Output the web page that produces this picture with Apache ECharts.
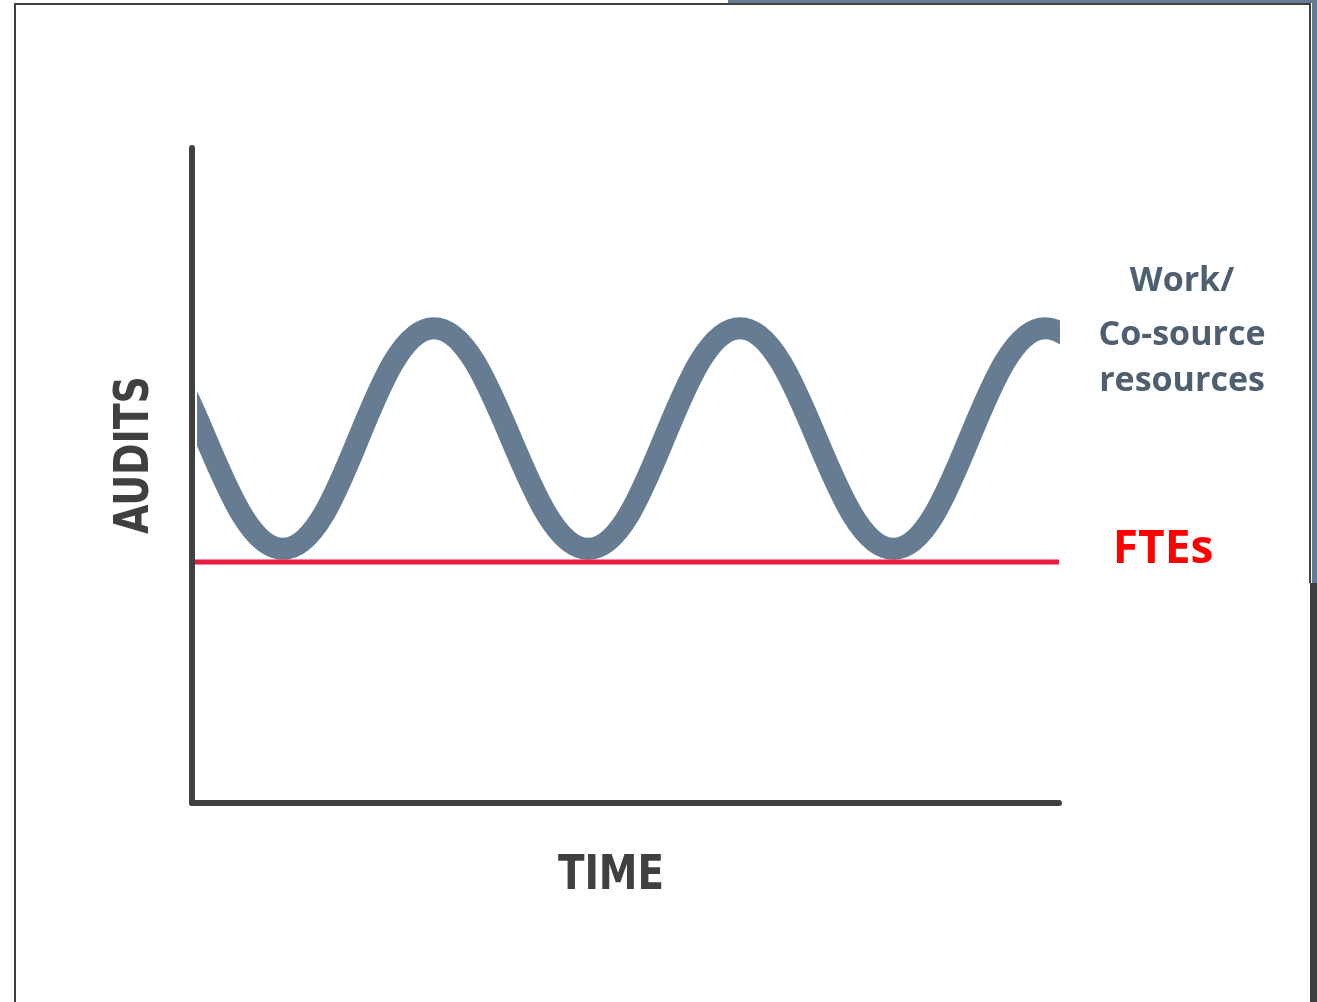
<!DOCTYPE html>
<html>
<head>
<meta charset="utf-8">
<script src="https://cdn.jsdelivr.net/npm/echarts@6/dist/echarts.min.js"></script>
<style>
  html, body { margin: 0; padding: 0; background: #ffffff; }
  #chart { width: 1317px; height: 1002px; }
</style>
</head>
<body>
<div id="chart"></div>
<script>
// Audit workload (peaks and troughs over time) against the flat FTE capacity
const waveX = [-24.7, -7.3, 10.5, 27.9, 45.7, 63.2, 80.9, 98.4, 116.0];
const workload = [38.8, 72.5, 38.8, 72.5, 38.8, 72.5, 38.8, 72.5, 38.8];
const fteX = [0, 100];
const fteLevel = [36.8, 36.8];

const workLabel = ['Work/', 'Co-source', 'resources'];
const fteLabel = 'FTEs';
const xName = 'TIME';
const yName = 'AUDITS';

const slate = '#667c92';
const axisGray = '#404040';
const waveWidth = 22;

// main plot area (axes + FTE line)
const plot = { left: 192, right: 258, top: 148, bottom: 199 };
const W = 1317;
const unitPx = (W - plot.left - plot.right) / 100;
// wave area: the line series clip is widened by half the stroke, so inset by that amount
const waveLeftPx = 197 + waveWidth / 2;
const waveRightPx = 1060 - waveWidth / 2;

const chart = echarts.init(document.getElementById('chart'), null, { renderer: 'canvas' });

const hiddenAxis = {
  type: 'value', show: false, splitLine: { show: false }
};
const axisCommon = {
  type: 'value',
  min: 0,
  max: 100,
  z: 10,
  axisLine: { show: true, lineStyle: { color: axisGray, width: 6 } },
  axisTick: { show: false },
  axisLabel: { show: false },
  splitLine: { show: false }
};

const titleFont = 'bold 48px "DejaVu Sans Condensed", "Liberation Sans Narrow", sans-serif';

chart.setOption({
  animation: false,
  backgroundColor: '#ffffff',
  grid: [
    { left: plot.left, right: plot.right, top: plot.top, bottom: plot.bottom },
    { left: waveLeftPx, right: W - waveRightPx, top: plot.top, bottom: plot.bottom }
  ],
  xAxis: [
    Object.assign({ gridIndex: 0 }, axisCommon),
    Object.assign({ gridIndex: 1 }, hiddenAxis, {
      min: (waveLeftPx - plot.left) / unitPx,
      max: (waveRightPx - plot.left) / unitPx
    })
  ],
  yAxis: [
    Object.assign({ gridIndex: 0 }, axisCommon),
    Object.assign({ gridIndex: 1 }, hiddenAxis, { min: 0, max: 100 })
  ],
  series: [
    {
      name: 'Work/Co-source resources',
      type: 'line',
      xAxisIndex: 1,
      yAxisIndex: 1,
      data: waveX.map((x, i) => [x, workload[i]]),
      smooth: 0.4,
      symbol: 'none',
      clip: true,
      z: 2,
      lineStyle: { color: slate, width: waveWidth, cap: 'butt' }
    },
    {
      name: 'FTEs',
      type: 'line',
      xAxisIndex: 0,
      yAxisIndex: 0,
      data: fteX.map((x, i) => [x, fteLevel[i]]),
      symbol: 'none',
      z: 3,
      lineStyle: { color: '#ec1a3d', width: 5 }
    }
  ],
  graphic: [
    // page frame
    { type: 'rect', shape: { x: 728, y: 0, width: 589, height: 3 }, style: { fill: slate }, silent: true },
    { type: 'rect', shape: { x: 1312, y: 0, width: 5, height: 583 }, style: { fill: slate }, silent: true },
    { type: 'rect', shape: { x: 1310, y: 583, width: 7, height: 419 }, style: { fill: axisGray }, silent: true },
    { type: 'rect', shape: { x: 14, y: 3, width: 1297, height: 2 }, style: { fill: axisGray }, silent: true },
    { type: 'rect', shape: { x: 14, y: 3, width: 2, height: 999 }, style: { fill: axisGray }, silent: true },
    { type: 'rect', shape: { x: 1309, y: 3, width: 2, height: 580 }, style: { fill: axisGray }, silent: true },
    // axis titles
    {
      type: 'text', x: 611, y: 877, scaleX: 0.9,
      style: { text: xName, textAlign: 'center', textVerticalAlign: 'middle', fill: axisGray, font: titleFont }
    },
    {
      type: 'text', x: 136, y: 455, rotation: Math.PI / 2, scaleX: 0.88,
      style: { text: yName, textAlign: 'center', textVerticalAlign: 'middle', fill: axisGray, font: titleFont }
    },
    // series labels
    ...workLabel.map((t, i) => ({
      type: 'text',
      style: {
        text: t,
        x: 1182,
        y: [281, 335, 381][i],
        textAlign: 'center',
        textVerticalAlign: 'middle',
        fill: '#4e5f70',
        font: 'bold 34px "Open Sans", sans-serif'
      }
    })),
    {
      type: 'text',
      style: {
        text: fteLabel,
        x: 1163,
        y: 550,
        textAlign: 'center',
        textVerticalAlign: 'middle',
        fill: '#ff0000',
        font: 'bold 46px "Open Sans", sans-serif'
      }
    }
  ]
});
</script>
</body>
</html>
